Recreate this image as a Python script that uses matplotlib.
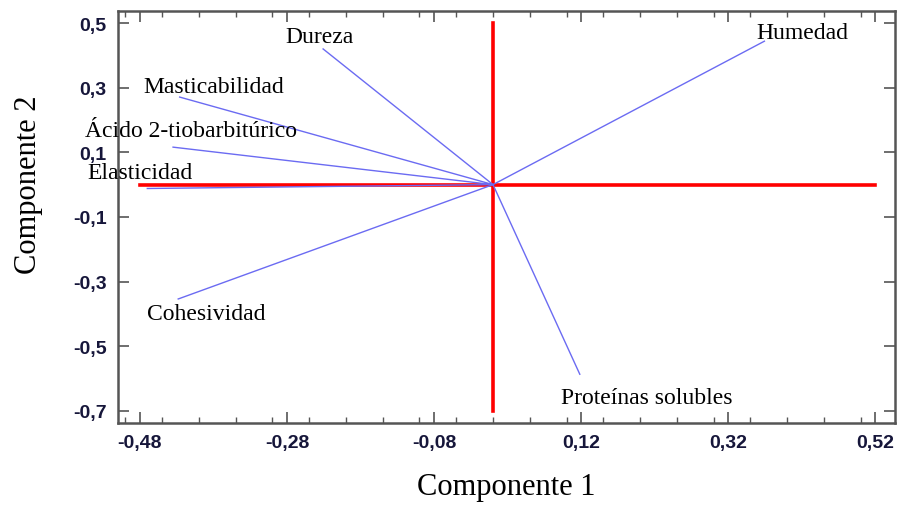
import matplotlib.pyplot as plt
import numpy as np
from matplotlib.ticker import FixedLocator, MultipleLocator

# loadings (componente 1, componente 2)
variables = ["Dureza", "Humedad", "Masticabilidad", "Ácido 2-tiobarbitúrico",
             "Elasticidad", "Cohesividad", "Proteínas solubles"]
comp1 = [-0.231, 0.369, -0.426, -0.435, -0.470, -0.428, 0.118]
comp2 = [0.420, 0.444, 0.271, 0.116, -0.012, -0.354, -0.587]

xticks = [-0.48, -0.28, -0.08, 0.12, 0.32, 0.52]
yticks = [0.5, 0.3, 0.1, -0.1, -0.3, -0.5, -0.7]

# where each label sits, relative to the line end (data units)
label_offset = {
    "Dureza": (-0.052, 0.040),
    "Humedad": (-0.011, 0.028),
    "Masticabilidad": (-0.050, 0.034),
    "Ácido 2-tiobarbitúrico": (-0.120, 0.053),
    "Elasticidad": (-0.082, 0.048),
    "Cohesividad": (-0.042, -0.044),
    "Proteínas solubles": (-0.025, -0.071),
}

fig = plt.figure(figsize=(9, 5.06), dpi=100)
ax = fig.add_axes([0.131, 0.162, 0.863, 0.814])

ax.set_xlim(-0.51, 0.546)
ax.set_ylim(-0.738, 0.537)

# axes cross
ax.plot([xticks[0], xticks[-1]], [0, 0], color="#ff0000", lw=2.6, zorder=2)
ax.plot([0, 0], [yticks[-1], yticks[0]], color="#ff0000", lw=2.6, zorder=2)

for name, x, y in zip(variables, comp1, comp2):
    ax.plot([0, x], [0, y], color="#6b6bf2", lw=1.0, zorder=3)
    dx, dy = label_offset[name]
    ax.text(x + dx, y + dy, name, fontsize=17, family="Liberation Serif",
            va="center", ha="left", clip_on=False, zorder=4)

ax.xaxis.set_major_locator(FixedLocator(xticks))
ax.xaxis.set_minor_locator(MultipleLocator(0.05))
ax.yaxis.set_major_locator(FixedLocator(yticks))
ax.set_xticklabels([f"{v:.2f}".replace(".", ",") for v in xticks])
ax.set_yticklabels([f"{v:.1f}".replace(".", ",") for v in yticks])

ax.tick_params(which="both", direction="in", top=True, right=True,
               color="#555555", labelcolor="#16163a")
ax.tick_params(which="major", length=8, width=1.2, labelsize=14, pad=8)
ax.tick_params(which="minor", length=4, width=1.0)
for lab in ax.get_xticklabels() + ax.get_yticklabels():
    lab.set_fontweight("bold")
    lab.set_family("Liberation Sans")

for sp in ax.spines.values():
    sp.set_color("#555555")
    sp.set_linewidth(1.8)

ax.set_xlabel("Componente 1", fontsize=22, family="Liberation Serif", labelpad=15)
ax.set_ylabel("Componente 2", fontsize=22, family="Liberation Serif")
ax.yaxis.set_label_coords(-0.097, 0.58)

fig.savefig("out.png", dpi=100)
